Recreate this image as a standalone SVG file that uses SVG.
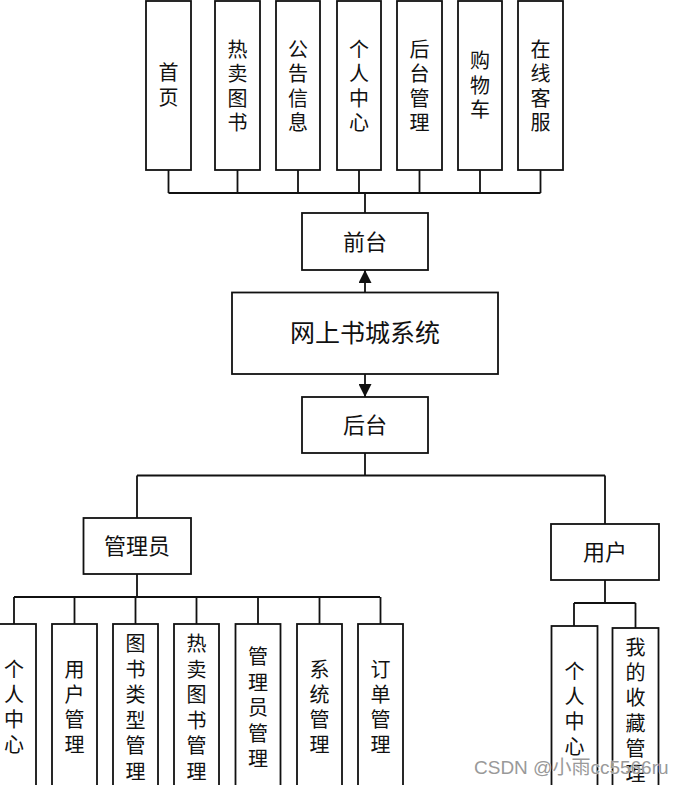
<svg xmlns="http://www.w3.org/2000/svg" width="685" height="785" viewBox="0 0 685 785">
<style>
.box{fill:#fff;stroke:#111;stroke-width:1.8}
.ln{fill:none;stroke:#111;stroke-width:1.8}
.t{font-family:"Noto Sans CJK SC","Noto Sans",sans-serif;font-size:20px;fill:#111;text-anchor:middle}
.t22{font-size:22px}
.t25{font-size:25px}
.wm{font-family:"Liberation Sans","Noto Sans CJK SC",sans-serif;font-size:19px;fill:#999;stroke:#fff;stroke-width:0.6;paint-order:stroke}
</style>
<defs>
<marker id="ah" viewBox="0 0 10 10" refX="10" refY="5" markerWidth="16" markerHeight="13" markerUnits="userSpaceOnUse" orient="auto">
<path d="M0,0 L10,5 L0,10 Z" fill="#111"/>
</marker>
</defs>
<rect width="685" height="785" fill="#fff"/>
<g id="connectors">
<path class="ln" d="M168.5,170 V193 M237.5,170 V193 M298,170 V193 M359,170 V193 M419.5,170 V193 M480,170 V193 M540.5,170 V193 M168.5,193 H540.5 M365,193 V213"/>
<path class="ln" d="M365,292.5 V270" marker-end="url(#ah)"/>
<path class="ln" d="M365,374 V397" marker-end="url(#ah)"/>
<path class="ln" d="M365,453 V475.5 M137,475.5 H605 M137,475.5 V518 M605,475.5 V524"/>
<path class="ln" d="M137,574 V597 M14,597 H380 M14,597 V624 M74.5,597 V624 M135.5,597 V624 M196.5,597 V624 M258,597 V624 M319.5,597 V624 M380.5,597 V624"/>
<path class="ln" d="M605,580 V603 M574,603 H635.5 M574,603 V626 M635.5,603 V628"/>
</g>
<g id="n-shouye"><rect class="box" x="146" y="1" width="45" height="169"/><text class="t" x="168.5"><tspan x="168.5" y="80">首</tspan><tspan x="168.5" y="105">页</tspan></text></g>
<g id="n-remai"><rect class="box" x="215" y="1" width="45" height="169"/><text class="t"><tspan x="237.5" y="56.5">热</tspan><tspan x="237.5" y="81">卖</tspan><tspan x="237.5" y="105.5">图</tspan><tspan x="237.5" y="130">书</tspan></text></g>
<g id="n-gonggao"><rect class="box" x="276" y="1" width="44" height="169"/><text class="t"><tspan x="298" y="56.5">公</tspan><tspan x="298" y="81">告</tspan><tspan x="298" y="105.5">信</tspan><tspan x="298" y="130">息</tspan></text></g>
<g id="n-geren"><rect class="box" x="337" y="1" width="44" height="169"/><text class="t"><tspan x="359" y="56.5">个</tspan><tspan x="359" y="81">人</tspan><tspan x="359" y="105.5">中</tspan><tspan x="359" y="130">心</tspan></text></g>
<g id="n-houtaiguanli"><rect class="box" x="397" y="1" width="45" height="169"/><text class="t"><tspan x="419.5" y="56.5">后</tspan><tspan x="419.5" y="81">台</tspan><tspan x="419.5" y="105.5">管</tspan><tspan x="419.5" y="130">理</tspan></text></g>
<g id="n-gouwuche"><rect class="box" x="458" y="1" width="44" height="169"/><text class="t"><tspan x="480" y="68">购</tspan><tspan x="480" y="92.5">物</tspan><tspan x="480" y="117">车</tspan></text></g>
<g id="n-kefu"><rect class="box" x="518" y="1" width="45" height="169"/><text class="t"><tspan x="540.5" y="56.5">在</tspan><tspan x="540.5" y="81">线</tspan><tspan x="540.5" y="105.5">客</tspan><tspan x="540.5" y="130">服</tspan></text></g>
<g id="n-qiantai"><rect class="box" x="302" y="213" width="126" height="57"/><text class="t t22" x="365" y="249.5">前台</text></g>
<g id="n-main"><rect class="box" x="232" y="292.5" width="266" height="81.5"/><text class="t t25" x="365" y="342">网上书城系统</text></g>
<g id="n-houtai"><rect class="box" x="302" y="397" width="126" height="56"/><text class="t t22" x="365" y="433">后台</text></g>
<g id="n-admin"><rect class="box" x="83.5" y="518" width="107.5" height="56"/><text class="t t22" x="137" y="554">管理员</text></g>
<g id="n-user"><rect class="box" x="551" y="524" width="108" height="56"/><text class="t t22" x="605" y="560">用户</text></g>
<g id="n-a-geren"><rect class="box" x="-9" y="624" width="45" height="170"/><text class="t"><tspan x="14" y="677">个</tspan><tspan x="14" y="702">人</tspan><tspan x="14" y="727">中</tspan><tspan x="14" y="752">心</tspan></text></g>
<g id="n-a-yonghu"><rect class="box" x="52" y="624" width="45" height="170"/><text class="t"><tspan x="74.5" y="677">用</tspan><tspan x="74.5" y="702">户</tspan><tspan x="74.5" y="727">管</tspan><tspan x="74.5" y="752">理</tspan></text></g>
<g id="n-a-leixing"><rect class="box" x="113" y="624" width="45" height="170"/><text class="t"><tspan x="135.5" y="651">图</tspan><tspan x="135.5" y="676.5">书</tspan><tspan x="135.5" y="702">类</tspan><tspan x="135.5" y="727.5">型</tspan><tspan x="135.5" y="753">管</tspan><tspan x="135.5" y="778.5">理</tspan></text></g>
<g id="n-a-remai"><rect class="box" x="174" y="624" width="45" height="170"/><text class="t"><tspan x="196.5" y="651">热</tspan><tspan x="196.5" y="676.5">卖</tspan><tspan x="196.5" y="702">图</tspan><tspan x="196.5" y="727.5">书</tspan><tspan x="196.5" y="753">管</tspan><tspan x="196.5" y="778.5">理</tspan></text></g>
<g id="n-a-guanliyuan"><rect class="box" x="235.5" y="624" width="45" height="170"/><text class="t"><tspan x="258" y="664">管</tspan><tspan x="258" y="689.5">理</tspan><tspan x="258" y="715">员</tspan><tspan x="258" y="740.5">管</tspan><tspan x="258" y="766">理</tspan></text></g>
<g id="n-a-xitong"><rect class="box" x="297" y="624" width="45" height="170"/><text class="t"><tspan x="319.5" y="677">系</tspan><tspan x="319.5" y="702">统</tspan><tspan x="319.5" y="727">管</tspan><tspan x="319.5" y="752">理</tspan></text></g>
<g id="n-a-dingdan"><rect class="box" x="358" y="624" width="45" height="170"/><text class="t"><tspan x="380.5" y="677">订</tspan><tspan x="380.5" y="702">单</tspan><tspan x="380.5" y="727">管</tspan><tspan x="380.5" y="752">理</tspan></text></g>
<g id="n-u-geren"><rect class="box" x="551.5" y="626" width="46" height="170"/><text class="t"><tspan x="574.5" y="679">个</tspan><tspan x="574.5" y="704">人</tspan><tspan x="574.5" y="729">中</tspan><tspan x="574.5" y="754">心</tspan></text></g>
<g id="n-u-shoucang"><rect class="box" x="612.5" y="628" width="46" height="170"/><text class="t"><tspan x="635.5" y="655">我</tspan><tspan x="635.5" y="680">的</tspan><tspan x="635.5" y="705">收</tspan><tspan x="635.5" y="731">藏</tspan><tspan x="635.5" y="756">管</tspan><tspan x="635.5" y="781">理</tspan></text></g>
<text class="wm" x="474" y="774">CSDN @小雨cc5566ru</text>
</svg>
